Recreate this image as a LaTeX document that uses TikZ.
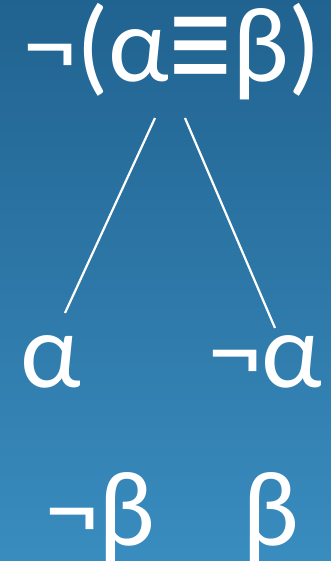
\documentclass[tikz,border=0pt]{standalone}
\usepackage{fontspec}
\setmainfont{Carlito}
\newfontfamily\libsans{Liberation Sans}
\definecolor{bluetop}{HTML}{1E5E8B}
\definecolor{bluebot}{HTML}{3C91C4}
\newcommand{\tallequiv}{{\libsans\raisebox{-9pt}{\scalebox{1}[1.27]{≡}}}}
\begin{document}
\begin{tikzpicture}[x=1pt,y=1pt,
  lbl/.style={text=white,font=\fontsize{107}{112}\selectfont,inner sep=0pt,anchor=base west},
  edge/.style={white,line width=2.2pt}]
\useasboundingbox (0,0) rectangle (331,561);
\shade[shading=axis,shading angle=-25,top color=bluetop,bottom color=bluebot] (-60,-60) rectangle (391,621);
\node[lbl] (top) at (23,479) {¬(α\tallequiv β)};
\node[lbl] (a) at (20,173) {α};
\node[lbl] (na) at (208,173) {¬α};
\node[lbl] (nb) at (45,16) {¬β};
\node[lbl] (b) at (242,16) {β};
\coordinate (t1) at (155,443);
\coordinate (t2) at (185,443);
\coordinate (e1) at (65,248);
\coordinate (e2) at (275,233);
\draw[edge] (t1) -- (e1);
\draw[edge] (t2) -- (e2);
\end{tikzpicture}
\end{document}
